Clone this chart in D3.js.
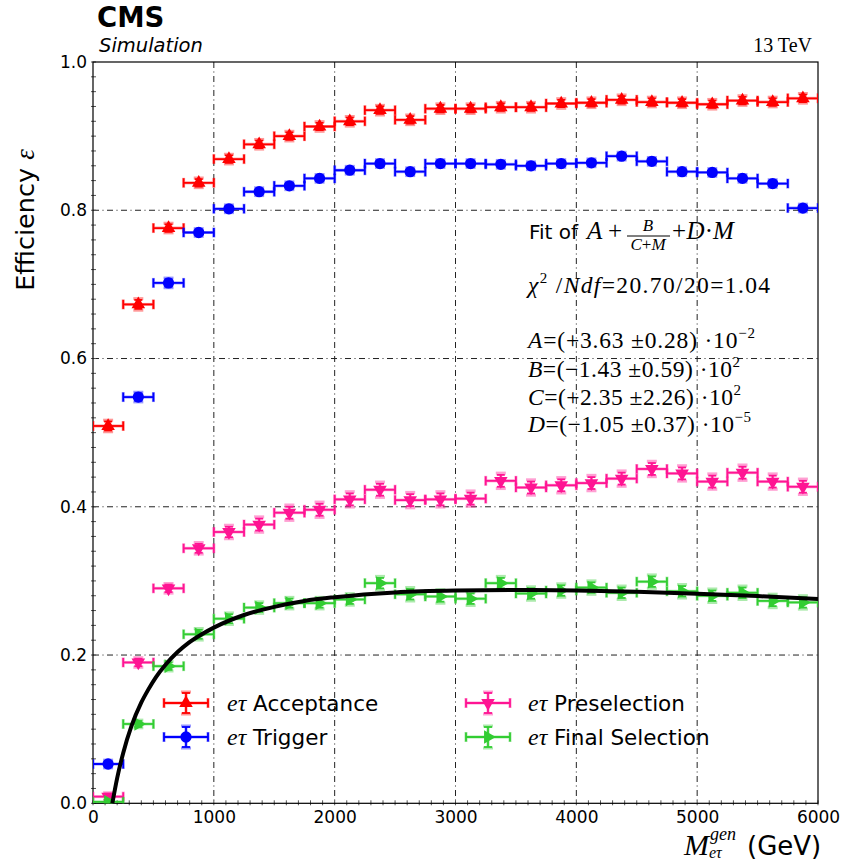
<!DOCTYPE html>
<html>
<head>
<meta charset="utf-8">
<script src="https://cdn.jsdelivr.net/npm/d3@7"></script>
<style>
  html, body { margin: 0; padding: 0; background: #fff; }
  svg { display: block; }
</style>
</head>
<body>
<div id="chart"></div>
<script>
// ---------------- DATA ----------------
const massBins = [125, 375, 625, 875, 1125, 1375, 1625, 1875, 2125, 2375, 2625, 2875,
                  3125, 3375, 3625, 3875, 4125, 4375, 4625, 4875, 5125, 5375, 5625, 5875];
const binHalfWidth = 125;

const acceptance   = [0.509, 0.673, 0.776, 0.837, 0.869, 0.889, 0.900, 0.913, 0.920, 0.935, 0.922, 0.937,
                      0.937, 0.939, 0.939, 0.944, 0.945, 0.949, 0.946, 0.945, 0.943, 0.948, 0.946, 0.951];
const trigger      = [0.053, 0.548, 0.702, 0.770, 0.802, 0.825, 0.833, 0.843, 0.854, 0.863, 0.852, 0.863,
                      0.863, 0.862, 0.860, 0.863, 0.864, 0.873, 0.866, 0.852, 0.851, 0.843, 0.836, 0.803];
const preselection = [0.009, 0.190, 0.290, 0.344, 0.366, 0.376, 0.392, 0.396, 0.410, 0.423, 0.409, 0.410,
                      0.411, 0.435, 0.426, 0.429, 0.432, 0.438, 0.451, 0.445, 0.434, 0.446, 0.434, 0.427];
const finalSel     = [0.002, 0.107, 0.185, 0.228, 0.249, 0.264, 0.270, 0.270, 0.275, 0.297, 0.282, 0.279,
                      0.276, 0.297, 0.283, 0.287, 0.291, 0.284, 0.299, 0.286, 0.280, 0.284, 0.273, 0.271];

const errAcceptance   = [0.006, 0.006, 0.005, 0.005, 0.005, 0.005, 0.005, 0.005, 0.005, 0.005, 0.005, 0.005,
                         0.005, 0.005, 0.005, 0.005, 0.005, 0.005, 0.005, 0.005, 0.005, 0.005, 0.005, 0.005];
const errTrigger      = [0.004, 0.005, 0.005, 0.004, 0.004, 0.004, 0.004, 0.004, 0.004, 0.004, 0.004, 0.004,
                         0.004, 0.004, 0.004, 0.004, 0.004, 0.004, 0.004, 0.004, 0.004, 0.004, 0.004, 0.004];
const errPreselection = [0.004, 0.005, 0.005, 0.006, 0.007, 0.008, 0.008, 0.008, 0.008, 0.008, 0.008, 0.008,
                         0.008, 0.008, 0.008, 0.008, 0.008, 0.008, 0.008, 0.008, 0.008, 0.008, 0.008, 0.008];
const errFinalSel     = [0.002, 0.004, 0.005, 0.006, 0.006, 0.006, 0.006, 0.006, 0.006, 0.007, 0.007, 0.007,
                         0.007, 0.007, 0.007, 0.007, 0.007, 0.007, 0.007, 0.007, 0.007, 0.007, 0.007, 0.007];

// fit curve
const fitMass = [160, 200, 250, 318, 400, 456, 520, 595, 700, 788, 900, 1000, 1250, 1500, 1750, 2000,
                 2500, 3000, 3500, 4000, 4500, 5000, 5500, 6000];
const fitEff  = [0.000, 0.034, 0.068, 0.104, 0.136, 0.153, 0.170, 0.186, 0.204, 0.216, 0.228, 0.237,
                 0.254, 0.265, 0.273, 0.278, 0.2845, 0.287, 0.2877, 0.2872, 0.2855, 0.2828, 0.2795, 0.2755];

const xTicks = [0, 1000, 2000, 3000, 4000, 5000, 6000];
const yTicks = [0.0, 0.2, 0.4, 0.6, 0.8, 1.0];

const seriesNames = ["Acceptance", "Trigger", "Preselection", "Final Selection"];
const seriesColors = ["#ff0000", "#0000ff", "#ff1493", "#32cd32"];

// ---------------- LAYOUT ----------------
const W = 846, H = 861;
const m = { left: 93, right: 818, top: 62, bottom: 803.3 };

const svg = d3.select("#chart").append("svg").attr("width", W).attr("height", H);

const x = d3.scaleLinear().domain([0, 6000]).range([m.left, m.right]);
const y = d3.scaleLinear().domain([0, 1]).range([m.bottom, m.top]);

const sans = "'DejaVu Sans', sans-serif";
const serif = "'Liberation Serif', 'DejaVu Serif', serif";

svg.append("defs").append("clipPath").attr("id", "plotclip")
  .append("rect").attr("x", m.left).attr("y", m.top)
  .attr("width", m.right - m.left).attr("height", m.bottom - m.top);

// grid (dash-dot)
const grid = svg.append("g");
grid.selectAll("line.vx").data(xTicks.filter(d => d > 0 && d < 6000)).enter().append("line")
  .attr("x1", d => x(d)).attr("x2", d => x(d)).attr("y1", m.top).attr("y2", m.bottom)
  .attr("stroke", "#222").attr("stroke-width", 1).attr("stroke-dasharray", "6,3.5,1,3.5");
grid.selectAll("line.hy").data(yTicks.filter(d => d > 0 && d < 1)).enter().append("line")
  .attr("x1", m.left).attr("x2", m.right).attr("y1", d => y(d)).attr("y2", d => y(d))
  .attr("stroke", "#222").attr("stroke-width", 1).attr("stroke-dasharray", "6,3.5,1,3.5");

// axes
const xAxis = d3.axisBottom(x).tickValues(xTicks).tickFormat(d3.format("d")).tickSize(0).tickPadding(8);
const yAxis = d3.axisLeft(y).tickValues(yTicks).tickFormat(d3.format(".1f")).tickSize(0).tickPadding(6);

const gx = svg.append("g").attr("transform", `translate(0,${m.bottom})`).call(xAxis);
const gy = svg.append("g").attr("transform", `translate(${m.left},0)`).call(yAxis);
[gx, gy].forEach(g => {
  g.select(".domain").remove();
  g.selectAll("text").attr("font-family", sans).attr("font-size", 17).attr("fill", "#000");
});

// minor ticks
const xMinor = d3.range(0, 6001, 100);
const yMinor = d3.range(0, 1.0001, 0.02);
svg.append("g").selectAll("line").data(xMinor).enter().append("line")
  .attr("x1", d => x(d)).attr("x2", d => x(d)).attr("y1", m.bottom - 3).attr("y2", m.bottom + 2)
  .attr("stroke", "#555").attr("stroke-width", 1);
svg.append("g").selectAll("line").data(yMinor).enter().append("line")
  .attr("y1", d => y(d)).attr("y2", d => y(d)).attr("x1", m.left - 2).attr("x2", m.left + 3)
  .attr("stroke", "#555").attr("stroke-width", 1);

// frame
svg.append("rect").attr("x", m.left).attr("y", m.top)
  .attr("width", m.right - m.left).attr("height", m.bottom - m.top)
  .attr("fill", "none").attr("stroke", "#000").attr("stroke-width", 1.2);

// ---------------- SERIES ----------------
const allSeries = [acceptance, trigger, preselection, finalSel];
const allErrs = [errAcceptance, errTrigger, errPreselection, errFinalSel];
const symTypes = [d3.symbolTriangle, d3.symbolCircle, d3.symbolTriangle, d3.symbolTriangle];
const symRot = [0, 0, 180, 90];
const symSize = [80, 100, 80, 80];

const plot = svg.append("g").attr("clip-path", "url(#plotclip)");

function drawErrBar(g, cx, cy, x0, x1, yLo, yHi, color, light) {
  const sw = light ? 3 : 1.8;
  const op = light ? 0.4 : 1;
  const capH = light ? 5 : 4.5;
  const capW = light ? 5 : 4;
  const gg = g.append("g").attr("stroke", color).attr("stroke-width", sw).attr("opacity", op).attr("fill", "none");
  gg.append("line").attr("x1", x0).attr("x2", x1).attr("y1", cy).attr("y2", cy);
  gg.append("line").attr("x1", x0).attr("x2", x0).attr("y1", cy - capH).attr("y2", cy + capH);
  gg.append("line").attr("x1", x1).attr("x2", x1).attr("y1", cy - capH).attr("y2", cy + capH);
  gg.append("line").attr("x1", cx).attr("x2", cx).attr("y1", yLo).attr("y2", yHi);
  gg.append("line").attr("x1", cx - capW).attr("x2", cx + capW).attr("y1", yLo).attr("y2", yLo);
  gg.append("line").attr("x1", cx - capW).attr("x2", cx + capW).attr("y1", yHi).attr("y2", yHi);
}

allSeries.forEach((vals, si) => {
  const g = plot.append("g");
  const errs = allErrs[si];
  vals.forEach((v, i) => {
    const cx = x(massBins[i]), cy = y(v);
    const x0 = x(massBins[i] - binHalfWidth), x1 = x(massBins[i] + binHalfWidth);
    drawErrBar(g, cx, cy, x0, x1, y(v - errs[i] * 1.3), y(v + errs[i] * 1.3), seriesColors[si], true);
    drawErrBar(g, cx, cy, x0, x1, y(v - errs[i]), y(v + errs[i]), seriesColors[si], false);
  });
  g.selectAll("path.mk").data(vals).enter().append("path")
    .attr("d", d3.symbol().type(symTypes[si]).size(symSize[si]))
    .attr("transform", (d, i) => `translate(${x(massBins[i])},${y(d)}) rotate(${symRot[si]})`)
    .attr("fill", seriesColors[si]);
});

// fit curve
const line = d3.line().x((d, i) => x(fitMass[i])).y(d => y(d)).curve(d3.curveMonotoneX);
plot.append("path").datum(fitEff).attr("d", line)
  .attr("fill", "none").attr("stroke", "#000").attr("stroke-width", 4);

// ---------------- LEGEND ----------------
const legendPos = [
  { sx: 186, tx: 227, y: 703 },
  { sx: 186, tx: 227, y: 737 },
  { sx: 488, tx: 528, y: 703 },
  { sx: 488, tx: 528, y: 737 }
];
seriesNames.forEach((name, si) => {
  const p = legendPos[si];
  const g = svg.append("g");
  drawErrBar(g, p.sx, p.y, p.sx - 22, p.sx + 22, p.y + 11, p.y - 11, seriesColors[si], true);
  drawErrBar(g, p.sx, p.y, p.sx - 22, p.sx + 22, p.y + 10, p.y - 10, seriesColors[si], false);
  g.append("path").attr("d", d3.symbol().type(symTypes[si]).size(symSize[si]))
    .attr("transform", `translate(${p.sx},${p.y}) rotate(${symRot[si]})`)
    .attr("fill", seriesColors[si]);
  const t = g.append("text").attr("x", p.tx).attr("y", p.y + 8).attr("font-size", 21.5).attr("fill", "#000");
  t.append("tspan").attr("font-family", serif).attr("font-style", "italic").attr("font-size", 24).text("eτ");
  t.append("tspan").attr("font-family", sans).text(" " + name);
});

// ---------------- TEXT ----------------
svg.append("text").attr("x", 97).attr("y", 27).attr("font-family", sans).attr("font-weight", "bold")
  .attr("font-size", 27.5).text("CMS");
svg.append("text").attr("x", 99).attr("y", 52).attr("font-family", sans).attr("font-style", "italic")
  .attr("font-size", 19.5).text("Simulation");
svg.append("text").attr("x", 812).attr("y", 52).attr("text-anchor", "end").attr("font-family", serif)
  .attr("font-size", 20).text("13 TeV");

// y label
svg.append("text").attr("transform", "translate(34,220) rotate(-90)").attr("text-anchor", "middle")
  .attr("font-size", 25.5)
  .call(t => {
    t.append("tspan").attr("font-family", sans).text("Efficiency ");
    t.append("tspan").attr("font-family", serif).attr("font-style", "italic").attr("font-size", 27).text("ε");
  });

// x label (single text element with sub/superscript tspans)
svg.append("text").attr("x", 684).attr("y", 855)
  .call(t => {
    t.append("tspan").attr("font-family", serif).attr("font-style", "italic").attr("font-size", 30).text("M");
    t.append("tspan").attr("x", 710).attr("y", 840).attr("font-family", serif).attr("font-style", "italic")
      .attr("font-size", 18).text("gen");
    t.append("tspan").attr("x", 709).attr("y", 858).attr("font-family", serif).attr("font-style", "italic")
      .attr("font-size", 16).text("eτ");
    t.append("tspan").attr("x", 747).attr("y", 855).attr("font-family", sans).attr("font-size", 26).text("(GeV)");
  });

// fit box text
const fitG = svg.append("g").attr("fill", "#000");
fitG.append("text").attr("x", 529).attr("y", 239).attr("font-family", sans).attr("font-size", 20).text("Fit of");
fitG.append("text").attr("x", 587).attr("y", 239).attr("font-family", serif).attr("font-style", "italic")
  .attr("font-size", 25).text("A");
fitG.append("text").attr("x", 615).attr("y", 239).attr("text-anchor", "middle").attr("font-family", serif)
  .attr("font-size", 25).text("+");
fitG.append("text").attr("x", 648).attr("y", 231).attr("text-anchor", "middle")
  .attr("font-family", serif).attr("font-style", "italic").attr("font-size", 17).text("B");
fitG.append("line").attr("x1", 627).attr("x2", 670).attr("y1", 236).attr("y2", 236)
  .attr("stroke", "#000").attr("stroke-width", 1);
fitG.append("text").attr("x", 648).attr("y", 249.5).attr("text-anchor", "middle")
  .attr("font-family", serif).attr("font-size", 17)
  .call(t => {
    t.append("tspan").attr("font-style", "italic").text("C");
    t.append("tspan").text("+");
    t.append("tspan").attr("font-style", "italic").text("M");
  });
fitG.append("text").attr("x", 679).attr("y", 239).attr("text-anchor", "middle").attr("font-family", serif)
  .attr("font-size", 25).text("+");
fitG.append("text").attr("x", 713).attr("y", 239).attr("text-anchor", "end").attr("font-family", serif)
  .attr("font-size", 25).call(t => {
    t.append("tspan").attr("font-style", "italic").text("D");
    t.append("tspan").text("·");
  });
fitG.append("text").attr("x", 713).attr("y", 239).attr("font-family", serif).attr("font-style", "italic")
  .attr("font-size", 25).text("M");

fitG.append("text").attr("x", 528).attr("y", 293).attr("font-family", serif).attr("font-size", 23.5)
  .attr("textLength", 242).attr("lengthAdjust", "spacing")
  .call(t => {
    t.append("tspan").attr("font-style", "italic").text("χ");
    t.append("tspan").attr("font-size", 15).attr("dy", -10).text("2");
    t.append("tspan").attr("dy", 10).text(" /");
    t.append("tspan").attr("font-style", "italic").text("Ndf");
    t.append("tspan").text("=20.70/20=1.04");
  });

const params = [
  { n: "A", v: "=(+3.63 ±0.28) ·10", e: "−2", yy: 348, w: 227 },
  { n: "B", v: "=(−1.43 ±0.59) ·10", e: "2", yy: 376.5, w: 212 },
  { n: "C", v: "=(+2.35 ±2.26) ·10", e: "2", yy: 404.5, w: 213 },
  { n: "D", v: "=(−1.05 ±0.37) ·10", e: "−5", yy: 431.5, w: 223 }
];
params.forEach(p => {
  fitG.append("text").attr("x", 528).attr("y", p.yy).attr("font-family", serif).attr("font-size", 23.5)
    .attr("textLength", p.w).attr("lengthAdjust", "spacing")
    .call(t => {
      t.append("tspan").attr("font-style", "italic").text(p.n);
      t.append("tspan").text(p.v);
      t.append("tspan").attr("font-size", 15).attr("dy", -10).text(p.e);
    });
});
</script>
</body>
</html>
